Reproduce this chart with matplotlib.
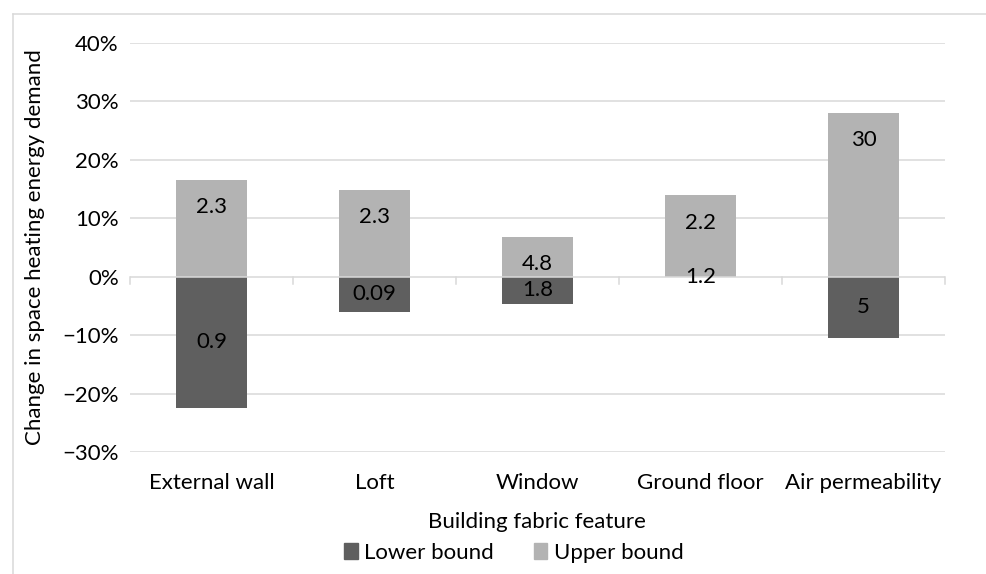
import matplotlib
matplotlib.use('Agg')
import matplotlib.pyplot as plt
from matplotlib.lines import Line2D
from matplotlib.patches import Patch
import numpy as np

# Daten
categories = ["External wall", "Loft", "Window", "Ground floor", "Air permeability"]
lower = [-22.4, -6.0, -4.6, 0.0, -10.5]
upper = [16.6, 14.9, 6.85, 13.9, 28.1]
lower_labels = ["0.9", "0.09", "1.8", "1.2", "5"]
upper_labels = ["2.3", "2.3", "4.8", "2.2", "30"]
yticks = [-30, -20, -10, 0, 10, 20, 30, 40]

dark = '#5f5f5f'
light = '#b3b3b3'
grid = '#d9d9d9'
fs = 16

plt.rcParams['font.family'] = ['Lato', 'DejaVu Sans']

fig = plt.figure(figsize=(9.87, 5.74), dpi=100)
ax = fig.add_axes([130 / 987, 1 - 452 / 574, 815 / 987, 409 / 574])

x = np.arange(len(categories))
ax.bar(x, lower, width=0.44, color=dark, zorder=3)
ax.bar(x, upper, width=0.44, color=light, zorder=3)

ax.set_xlim(-0.5, len(categories) - 0.5)
ax.set_ylim(-30, 40)

# Gitterlinien
for t in yticks:
    if t != 0:
        ax.axhline(t, color=grid, lw=1.1, zorder=1)
ax.axhline(0, color=grid, lw=1.1, zorder=4)
for b in np.arange(-0.5, len(categories), 1.0):
    ax.plot([b, b], [0, -1.3], color=grid, lw=1.1, zorder=4, clip_on=False)

for s in ax.spines.values():
    s.set_visible(False)
ax.set_yticks(yticks)
ax.set_yticklabels([f"{t}%".replace('-', '\u2212') for t in yticks], fontsize=fs)
ax.tick_params(axis='y', length=0, pad=8)
ax.set_xticks([])

# Kategorien unter der Achse
for i, c in enumerate(categories):
    ax.text(i, -0.075, c, transform=ax.get_xaxis_transform(), ha='center', va='center', fontsize=fs)

# Beschriftungen
for i in range(len(categories)):
    ax.annotate(upper_labels[i], (i, upper[i]), xytext=(0, -19.5), textcoords='offset points',
                ha='center', va='center', fontsize=fs, zorder=5)
    ax.text(i, lower[i] / 2, lower_labels[i], ha='center', va='center', fontsize=fs, zorder=5)

ax.set_ylabel('Change in space heating energy demand', fontsize=fs)
ax.yaxis.set_label_coords(-0.104, 0.5)
fig.text(537 / 987, 1 - 522 / 574, 'Building fabric feature', ha='center', va='center', fontsize=fs)

handles = [Patch(color=dark, label='Lower bound'), Patch(color=light, label='Upper bound')]
fig.legend(handles=handles, loc='center', bbox_to_anchor=(514 / 987, 1 - 553 / 574), ncol=2,
           frameon=False, fontsize=fs, handlelength=0.6, handleheight=0.75, handletextpad=0.3,
           columnspacing=1.8, borderpad=0)

# Rahmen
fig.add_artist(Line2D([13 / 987, 1], [1 - 14 / 574, 1 - 14 / 574], color=grid, lw=1.1))
fig.add_artist(Line2D([13 / 987, 13 / 987], [0, 1 - 14 / 574], color=grid, lw=1.1))

fig.savefig('out.png', dpi=100)
plt.close(fig)
